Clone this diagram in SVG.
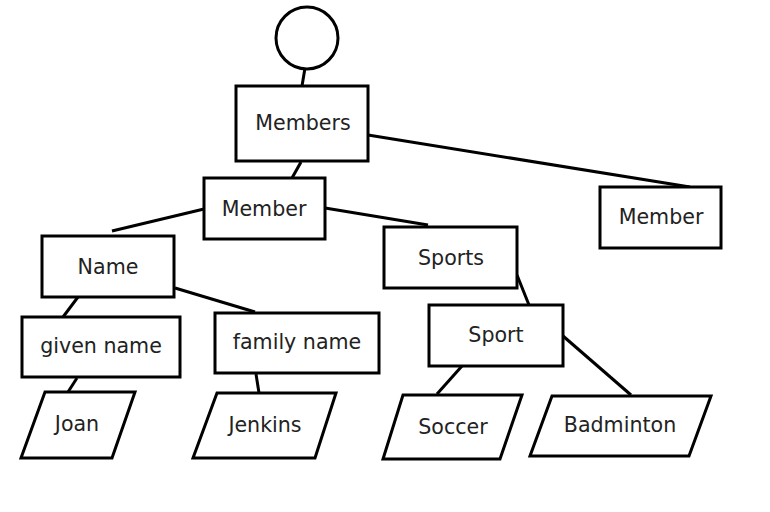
<svg xmlns="http://www.w3.org/2000/svg" width="770" height="512" viewBox="0 0 770 512">
<style>
.n{fill:#fff;stroke:#000;stroke-width:3}
.e line{stroke:#000;stroke-width:3}
text{font-family:"DejaVu Sans",sans-serif;font-size:20.6px;fill:#222;text-anchor:middle;dominant-baseline:central}
</style>
<rect width="770" height="512" fill="#fff"/>
<g class="e" id="connectors">
<line x1="305" y1="68" x2="302" y2="86"/>
<line x1="301" y1="162" x2="292" y2="178"/>
<line x1="368" y1="135" x2="690" y2="187"/>
<line x1="204" y1="209" x2="112" y2="231"/>
<line x1="325" y1="208" x2="428" y2="225"/>
<line x1="517" y1="275" x2="529" y2="305"/>
<line x1="462" y1="366" x2="437" y2="394"/>
<line x1="563" y1="336" x2="631" y2="395"/>
<line x1="78" y1="297" x2="63" y2="317"/>
<line x1="175" y1="288" x2="255" y2="312"/>
<line x1="77" y1="378" x2="68" y2="392"/>
<line x1="256" y1="374" x2="259" y2="393"/>
</g>
<g id="root"><circle class="n" cx="307" cy="38" r="31"/></g>
<g id="members"><rect class="n" x="236" y="86" width="132" height="75"/><text x="303" y="123">Members</text></g>
<g id="member1"><rect class="n" x="204" y="178" width="121" height="61"/><text x="264" y="209">Member</text></g>
<g id="member2"><rect class="n" x="600" y="187" width="121" height="61"/><text x="661" y="217">Member</text></g>
<g id="name"><rect class="n" x="42" y="236" width="132" height="61"/><text x="108" y="267">Name</text></g>
<g id="given"><rect class="n" x="22" y="317" width="158" height="60"/><text x="101" y="346">given name</text></g>
<g id="family"><rect class="n" x="215" y="313" width="164" height="60"/><text x="297" y="342">family name</text></g>
<g id="sports"><rect class="n" x="384" y="227" width="133" height="61"/><text x="451" y="258">Sports</text></g>
<g id="sport"><rect class="n" x="429" y="305" width="134" height="61"/><text x="496" y="335">Sport</text></g>
<g id="joan"><polygon class="n" points="45,392 135,392 112,458 21,458"/><text x="77" y="424">Joan</text></g>
<g id="jenkins"><polygon class="n" points="217,393 336,393 315,458 193,458"/><text x="265" y="425">Jenkins</text></g>
<g id="soccer"><polygon class="n" points="403,395 522,395 500,459 383,459"/><text x="453" y="427">Soccer</text></g>
<g id="badminton"><polygon class="n" points="552,396 711,396 689,456 530,456"/><text x="620" y="425">Badminton</text></g>
</svg>
